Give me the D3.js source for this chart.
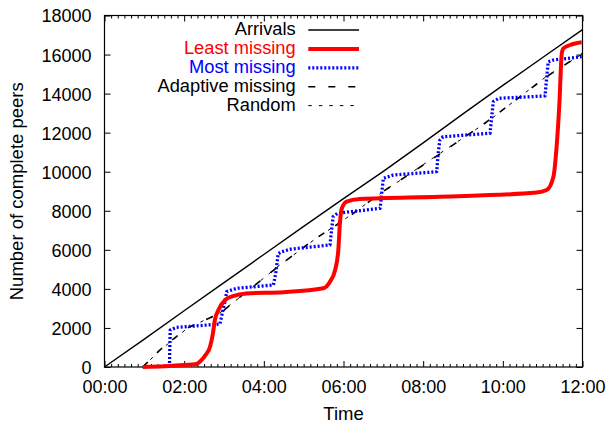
<!DOCTYPE html>
<html>
<head>
<meta charset="utf-8">
<script src="https://cdn.jsdelivr.net/npm/d3@7"></script>
<style>
  html, body { margin: 0; padding: 0; background: #fff; }
  svg { display: block; font-family: "Liberation Sans", Arial, sans-serif; }
</style>
</head>
<body>
<svg id="chart" width="608" height="424"></svg>
<script>
// ---- Data (time in hours, values = number of complete peers) ----
const xTickLabels = ["00:00", "02:00", "04:00", "06:00", "08:00", "10:00", "12:00"];
const yTickValues = [0, 2000, 4000, 6000, 8000, 10000, 12000, 14000, 16000, 18000];

const arrivalsT = [0, 1, 2, 3, 4, 5, 6, 7, 8, 9, 10, 11, 12];
const arrivalsV = [0, 1430, 2880, 4320, 5760, 7200, 8620, 10020, 11480, 12960, 14420, 15850, 17280];

const leastT = [0.96, 1.5, 2.0, 2.31, 2.44, 2.55, 2.65, 2.72, 2.77, 2.86, 3.03, 3.23, 3.57, 4.5, 5.49, 5.66, 5.79, 5.87, 5.91, 5.96, 6.08, 6.41, 8.42, 10.85, 11.10, 11.27, 11.35, 11.42, 11.48, 11.52, 11.69, 11.98];
const leastV = [0, 40, 100, 154, 360, 650, 1040, 1700, 2400, 2920, 3430, 3635, 3770, 3830, 4030, 4370, 4970, 5990, 7360, 8130, 8470, 8600, 8720, 8930, 9060, 9745, 11280, 13500, 16060, 16320, 16490, 16630];

const mostT = [1.63, 1.64, 1.65, 1.81, 2.90, 2.95, 3.02, 3.07, 3.32, 4.24, 4.30, 4.36, 4.45, 4.66, 5.66, 5.70, 5.74, 5.85, 6.92, 6.96, 7.00, 7.25, 8.34, 8.38, 8.42, 8.50, 9.68, 9.72, 9.76, 9.90, 11.06, 11.10, 11.14, 11.27, 11.98];
const mostV = [0, 1000, 1895, 2030, 2200, 2700, 3300, 3860, 4030, 4200, 4800, 5800, 5900, 6030, 6250, 7000, 7700, 7870, 8130, 8900, 9660, 9830, 10000, 11000, 11620, 11790, 11970, 12800, 13590, 13760, 13880, 14800, 15630, 15720, 15890];

const adaptiveT = [0.96, 1.39, 2.06, 2.9, 3.57, 4.36, 5.24, 6.08, 6.92, 8.26, 9.6, 11.1, 12];
const adaptiveV = [0, 870, 1980, 2750, 3860, 5140, 6500, 7610, 8890, 10690, 12560, 14870, 16060];

const randomT = [0.96, 1.39, 2.06, 2.9, 3.57, 4.36, 5.24, 6.08, 6.92, 8.26, 9.6, 11.1, 12];
const randomV = [0, 850, 1950, 2780, 3840, 5160, 6480, 7640, 8870, 10720, 12540, 14890, 16040];

const seriesNames = ["Arrivals", "Least missing", "Most missing", "Adaptive missing", "Random"];

// ---- Layout ----
const svg = d3.select("#chart");
const pLeft = 104.5, pRight = 582.5, pTop = 15.5, pBottom = 367;
const x = d3.scaleLinear().domain([0, 12]).range([pLeft, pRight]);
const y = d3.scaleLinear().domain([0, 18000]).range([pBottom, pTop]);

const styles = [
  { color: "#000000", width: 1.4, dash: null, curve: d3.curveLinear },
  { color: "#ff0000", width: 4, dash: null, curve: d3.curveMonotoneX },
  { color: "#0000ff", width: 3.3, dash: "2,2", curve: d3.curveLinear },
  { color: "#000000", width: 1.6, dash: "7,13", curve: d3.curveLinear },
  { color: "#000000", width: 1, dash: "3.5,7", curve: d3.curveLinear }
];
const textColors = ["#000", "#ff0000", "#0000ff", "#000", "#000"];

const allSeries = [
  d3.zip(arrivalsT, arrivalsV),
  d3.zip(leastT, leastV),
  d3.zip(mostT, mostV),
  d3.zip(adaptiveT, adaptiveV),
  d3.zip(randomT, randomV)
];

// ---- Axes ----
const majorTicks = d3.range(0, 12.001, 2);
const minorTicks = d3.range(0, 12.001, 1 / 6).filter(t => Math.abs(t / 2 - Math.round(t / 2)) > 1e-6);

function clean(g) { g.select(".domain").remove(); }

// bottom labels
svg.append("g").attr("transform", `translate(0,${pBottom})`)
  .call(d3.axisBottom(x).tickValues(majorTicks).tickSize(0).tickPadding(13)
    .tickFormat((d, i) => xTickLabels[i]))
  .call(clean)
  .selectAll("text").attr("font-size", 18).attr("font-family", "Liberation Sans, Arial, sans-serif").attr("fill", "#000");

// bottom/top ticks
[["axisBottom", pBottom], ["axisTop", pTop]].forEach(([fn, pos]) => {
  svg.append("g").attr("transform", `translate(0,${pos})`)
    .call(d3[fn](x).tickValues(majorTicks).tickSize(-6).tickFormat(""))
    .call(clean);
  svg.append("g").attr("transform", `translate(0,${pos})`)
    .call(d3[fn](x).tickValues(minorTicks).tickSize(-3).tickFormat(""))
    .call(clean);
});

// left labels
svg.append("g").attr("transform", `translate(${pLeft},0)`)
  .call(d3.axisLeft(y).tickValues(yTickValues).tickSize(0).tickPadding(13).tickFormat(d3.format("d")))
  .call(clean)
  .selectAll("text").attr("font-size", 18).attr("font-family", "Liberation Sans, Arial, sans-serif").attr("fill", "#000").attr("dy", "0.36em");

// left/right ticks
svg.append("g").attr("transform", `translate(${pLeft},0)`)
  .call(d3.axisLeft(y).tickValues(yTickValues).tickSize(-6).tickFormat(""))
  .call(clean);
svg.append("g").attr("transform", `translate(${pRight},0)`)
  .call(d3.axisRight(y).tickValues(yTickValues).tickSize(-6).tickFormat(""))
  .call(clean);

svg.selectAll(".tick line").attr("stroke", "#000").attr("stroke-width", 1);

// frame
svg.append("rect")
  .attr("x", pLeft).attr("y", pTop)
  .attr("width", pRight - pLeft).attr("height", pBottom - pTop)
  .attr("fill", "none").attr("stroke", "#000").attr("stroke-width", 1.2);

// axis titles
svg.append("text")
  .attr("x", (pLeft + pRight) / 2).attr("y", 420)
  .attr("text-anchor", "middle").attr("font-size", 18.5)
  .text("Time");
svg.append("text")
  .attr("transform", `translate(23,${(pTop + pBottom) / 2}) rotate(-90)`)
  .attr("text-anchor", "middle").attr("font-size", 18.5)
  .text("Number of complete peers");

// ---- Lines ----
const plot = svg.append("g");
[4, 3, 0, 2, 1].forEach(i => {
  const s = styles[i];
  const line = d3.line().x(d => x(d[0])).y(d => y(d[1])).curve(s.curve);
  plot.append("path")
    .datum(allSeries[i])
    .attr("d", line)
    .attr("fill", "none")
    .attr("stroke", s.color)
    .attr("stroke-width", s.width)
    .attr("stroke-dasharray", s.dash)
    .attr("stroke-linejoin", "round");
});

// ---- Legend ----
const legend = svg.append("g");
seriesNames.forEach((name, i) => {
  const base = 35 + i * 18.9;
  legend.append("text")
    .attr("x", 295.7).attr("y", base)
    .attr("text-anchor", "end").attr("font-size", 18.3)
    .attr("fill", textColors[i])
    .text(name);
  const s = styles[i];
  legend.append("line")
    .attr("x1", 308.3).attr("x2", 359)
    .attr("y1", base - 5).attr("y2", base - 5)
    .attr("stroke", s.color)
    .attr("stroke-width", s.width)
    .attr("stroke-dasharray", s.dash);
});
</script>
</body>
</html>
